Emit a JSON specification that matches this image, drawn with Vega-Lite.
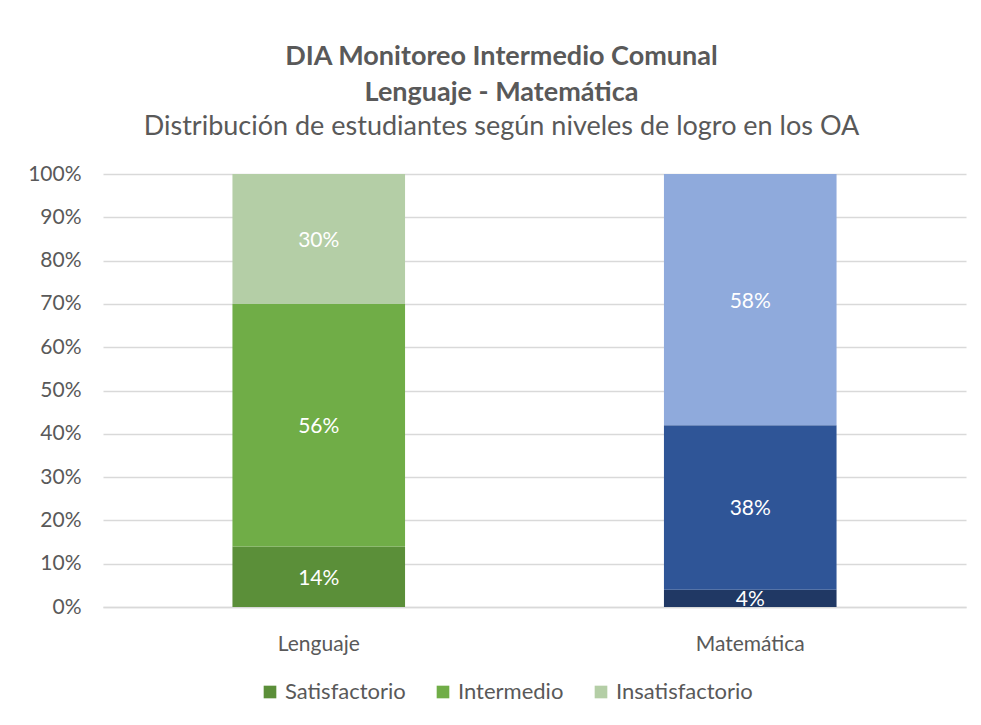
{
  "$schema": "https://vega.github.io/schema/vega-lite/v6.json",
  "width": 863,
  "height": 433,
  "autosize": {"type": "none"},
  "padding": {"left": 103, "top": 174, "right": 15, "bottom": 118},
  "background": "white",
  "config": {"view": {"stroke": null}},
  "title": {
    "text": ["DIA Monitoreo Intermedio Comunal", "Lenguaje - Matemática"],
    "subtitle": "Distribución de estudiantes según niveles de logro en los OA",
    "font": "Lato",
    "fontSize": 27,
    "fontWeight": "bold",
    "color": "#595959",
    "lineHeight": 36,
    "subtitleFont": "Lato",
    "subtitleFontSize": 27,
    "subtitleColor": "#595959",
    "subtitlePadding": 7,
    "anchor": "middle",
    "dx": -33,
    "offset": 22
  },
  "data": {
    "values": [
      {"asignatura": "Lenguaje", "nivel": "Satisfactorio", "serie": "Lenguaje|Satisfactorio", "orden": 1, "pct": 0.14},
      {"asignatura": "Lenguaje", "nivel": "Intermedio", "serie": "Lenguaje|Intermedio", "orden": 2, "pct": 0.56},
      {"asignatura": "Lenguaje", "nivel": "Insatisfactorio", "serie": "Lenguaje|Insatisfactorio", "orden": 3, "pct": 0.30},
      {"asignatura": "Matemática", "nivel": "Satisfactorio", "serie": "Matemática|Satisfactorio", "orden": 1, "pct": 0.04},
      {"asignatura": "Matemática", "nivel": "Intermedio", "serie": "Matemática|Intermedio", "orden": 2, "pct": 0.38},
      {"asignatura": "Matemática", "nivel": "Insatisfactorio", "serie": "Matemática|Insatisfactorio", "orden": 3, "pct": 0.58}
    ]
  },
  "transform": [
    {"stack": "pct", "groupby": ["asignatura"], "sort": [{"field": "orden", "order": "ascending"}], "as": ["y0", "y1"]},
    {"calculate": "(datum.y0 + datum.y1) / 2", "as": "ymid"}
  ],
  "encoding": {
    "x": {
      "field": "asignatura",
      "type": "nominal",
      "sort": ["Lenguaje", "Matemática"],
      "scale": {"paddingInner": 0.6, "paddingOuter": 0.3},
      "axis": {
        "title": null,
        "labelAngle": 0,
        "labelFont": "Lato",
        "labelFontSize": 21,
        "labelColor": "#595959",
        "labelPadding": 26,
        "ticks": false,
        "domainColor": "#d9d9d9",
        "domainWidth": 1.5,
        "grid": false
      }
    }
  },
  "layer": [
    {
      "mark": {"type": "bar"},
      "encoding": {
        "y": {
          "field": "y0",
          "type": "quantitative",
          "scale": {"domain": [0, 1]},
          "axis": {
            "title": null,
            "values": [0, 0.1, 0.2, 0.3, 0.4, 0.5, 0.6, 0.7, 0.8, 0.9, 1],
            "format": ".0%",
            "labelFont": "Lato",
            "labelFontSize": 21,
            "labelColor": "#595959",
            "labelPadding": 22,
            "ticks": false,
            "domain": false,
            "gridColor": "#d9d9d9",
            "gridWidth": 1.5
          }
        },
        "y2": {"field": "y1"},
        "color": {
          "field": "serie",
          "type": "nominal",
          "scale": {
            "domain": ["Lenguaje|Satisfactorio", "Lenguaje|Intermedio", "Lenguaje|Insatisfactorio", "Matemática|Satisfactorio", "Matemática|Intermedio", "Matemática|Insatisfactorio"],
            "range": ["#5b8f39", "#70ad47", "#b4cea6", "#203864", "#2f5597", "#8faadc"]
          },
          "legend": {
            "values": ["Lenguaje|Satisfactorio", "Lenguaje|Intermedio", "Lenguaje|Insatisfactorio"],
            "labelExpr": "split(datum.label, '|')[1]",
            "title": null,
            "orient": "none",
            "legendX": 156,
            "legendY": 507,
            "direction": "horizontal",
            "symbolType": "square",
            "symbolSize": 160,
            "symbolStrokeWidth": 0,
            "labelFont": "Lato",
            "labelFontSize": 22,
            "labelColor": "#595959",
            "labelOffset": 4,
            "columnPadding": 26
          }
        }
      }
    },
    {
      "mark": {"type": "text", "color": "white", "font": "Lato", "fontSize": 21, "baseline": "middle", "dy": 2},
      "encoding": {
        "y": {"field": "ymid", "type": "quantitative"},
        "text": {"field": "pct", "type": "quantitative", "format": ".0%"}
      }
    }
  ]
}
